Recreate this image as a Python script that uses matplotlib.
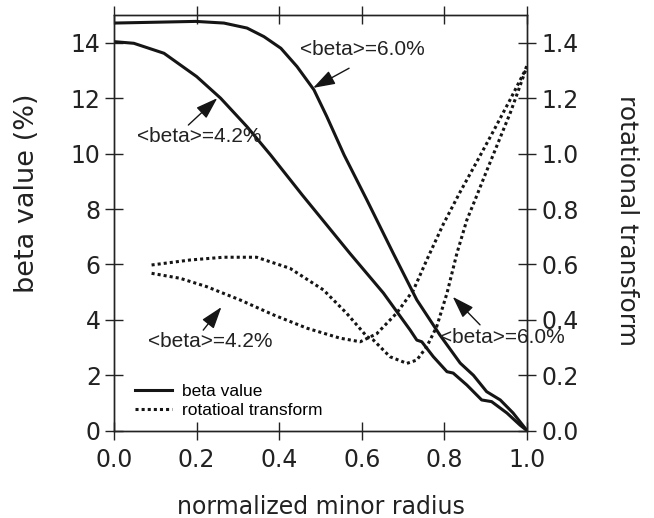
import matplotlib
matplotlib.use("Agg")
import matplotlib.pyplot as plt

plt.rcParams['font.family'] = ['DejaVu Sans']

# beta profiles (%)
r_b60 = [0.0, 0.10, 0.198, 0.266, 0.322, 0.363, 0.404, 0.443, 0.484, 0.515, 0.557, 0.612,
         0.676, 0.733, 0.789, 0.838, 0.87, 0.902, 0.935, 0.966, 1.0]
b60 = [14.71, 14.74, 14.77, 14.71, 14.53, 14.22, 13.8, 13.14, 12.3, 11.34, 9.95, 8.33,
       6.4, 4.72, 3.45, 2.44, 2.0, 1.41, 1.11, 0.64, 0.0]
r_b42 = [0.0, 0.048, 0.121, 0.2, 0.258, 0.322, 0.379, 0.456, 0.571, 0.652, 0.717,
         0.733, 0.745, 0.773, 0.806, 0.821, 0.854, 0.89, 0.914, 0.951, 0.983, 1.0]
b42 = [14.04, 13.98, 13.62, 12.78, 12.0, 10.97, 9.95, 8.5, 6.4, 4.97, 3.63,
       3.27, 3.21, 2.67, 2.13, 2.08, 1.65, 1.11, 1.05, 0.64, 0.2, 0.0]

# rotational transform profiles
r_i42 = [0.091, 0.16, 0.224, 0.305, 0.386, 0.467, 0.547, 0.596, 0.636, 0.684, 0.725, 0.757,
         0.797, 0.838, 0.878, 0.918, 0.959, 0.995, 1.0]
i42 = [0.568, 0.55, 0.52, 0.472, 0.418, 0.37, 0.334, 0.321, 0.35, 0.424, 0.508, 0.616,
       0.745, 0.862, 0.97, 1.08, 1.195, 1.30, 1.32]
r_i60 = [0.091, 0.184, 0.265, 0.345, 0.426, 0.507, 0.563, 0.612, 0.628, 0.668, 0.709, 0.733,
         0.757, 0.781, 0.806, 0.83, 0.854, 0.874, 0.90, 0.93, 0.96, 0.995, 1.0]
i60 = [0.598, 0.616, 0.626, 0.626, 0.586, 0.508, 0.424, 0.34, 0.327, 0.267, 0.243, 0.255,
       0.303, 0.375, 0.496, 0.64, 0.76, 0.833, 0.93, 1.04, 1.15, 1.295, 1.315]

x_ticks = [0.0, 0.2, 0.4, 0.6, 0.8, 1.0]
y_ticks = [0, 2, 4, 6, 8, 10, 12, 14]
y2_ticks = [0.0, 0.2, 0.4, 0.6, 0.8, 1.0, 1.2, 1.4]

fig = plt.figure(figsize=(6.54, 5.18), dpi=100)
ax = fig.add_axes([0.1743, 0.1685, 0.806 - 0.1743, 0.971 - 0.1685])
ax2 = ax.twinx()

c = '#151515'
lw = 2.2
dot = (0, (1, 1))
ax.plot(r_b60, b60, color=c, lw=lw, label='beta value', solid_joinstyle='round')
ax.plot(r_b42, b42, color=c, lw=lw, solid_joinstyle='round')
ax2.plot(r_i42, i42, color=c, lw=lw, linestyle=dot)
ax2.plot(r_i60, i60, color=c, lw=lw, linestyle=dot)
ax.plot([], [], color=c, lw=lw, linestyle=dot, label='rotatioal transform')

ax.set_xlim(0, 1.0)
ax.set_ylim(0, 15)
ax2.set_ylim(0, 1.5)
ax.set_xticks(x_ticks)
ax.set_xticklabels([f"{v:.1f}" for v in x_ticks])
ax.set_yticks(y_ticks)
ax2.set_yticks(y2_ticks)
ax2.set_yticklabels([f"{v:.1f}" for v in y2_ticks])

tc = '#222222'
ax.tick_params(axis='both', direction='inout', length=13, width=1, labelsize=17, pad=3,
               top=True, colors=tc)
ax.tick_params(axis='x', pad=6)
ax2.tick_params(axis='y', direction='inout', length=13, width=1, labelsize=17, pad=4, colors=tc)
for a in (ax, ax2):
    for s in a.spines.values():
        s.set_linewidth(1.0)
        s.set_color(tc)

ax.set_xlabel('normalized minor radius', fontsize=17, color=tc)
ax.xaxis.set_label_coords(0.5, (430.7 - 507) / 415.7)
ax.xaxis.label.set_va('center')
ax.set_ylabel('beta value (%)', fontsize=19.5, color=tc)
ax.yaxis.set_label_coords((27 - 114) / 413, (430.7 - 193) / 415.7)
ax.yaxis.label.set_va('center')
ax2.set_ylabel('rotational transform', fontsize=18, rotation=270, color=tc)
ax2.yaxis.set_label_coords((627 - 114) / 413, (430.7 - 220) / 415.7)
ax2.yaxis.label.set_va('center')

akw = dict(arrowstyle='-|>,head_length=0.9,head_width=0.3', color=c, lw=1.0, mutation_scale=15,
           shrinkA=0, shrinkB=0)
tkw = dict(fontsize=15, color=tc, va='center', ha='left', family=['Liberation Sans', 'DejaVu Sans'])
ax.annotate('', xy=(0.482, 12.37), xytext=(0.569, 13.08), arrowprops=akw)
ax.text((300 - 114) / 413, (430.7 - 50) / 27.7, '<beta>=6.0%', **tkw)
ax.annotate('', xy=(0.25, 12.0), xytext=(0.18, 11.03), arrowprops=akw)
ax.text((137 - 114) / 413, (430.7 - 137) / 27.7, '<beta>=4.2%', **tkw)
ax.annotate('', xy=(0.26, 4.46), xytext=(0.216, 3.63), arrowprops=akw)
ax.text((148 - 114) / 413, (430.7 - 342) / 27.7, '<beta>=4.2%', **tkw)
ax.annotate('', xy=(0.82, 4.83), xytext=(0.886, 3.82), arrowprops=akw)
ax.text((440 - 114) / 413, (430.7 - 338) / 27.7, '<beta>=6.0%', clip_on=False, **tkw)

ax.legend(loc='lower left', bbox_to_anchor=(0.052, 0.03), frameon=False,
          prop={'family': ['Liberation Sans', 'DejaVu Sans'], 'size': 12.5},
          handlelength=2.1, handletextpad=0.6, labelspacing=0.25, borderaxespad=0, borderpad=0)

ax.set_zorder(ax2.get_zorder() + 1)
ax.patch.set_visible(False)

fig.savefig('out.png', dpi=100)
